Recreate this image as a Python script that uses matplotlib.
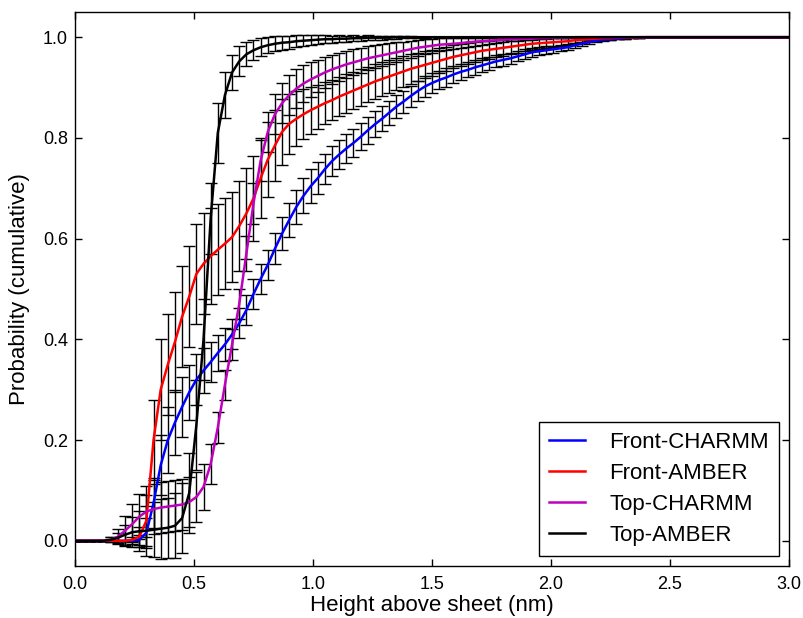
import numpy as np
import matplotlib

matplotlib.use("Agg")
import matplotlib.pyplot as plt  # noqa: E402

plt.rcParams["font.family"] = ["Liberation Sans", "DejaVu Sans"]

# bin positions (nm), one value every 0.03 nm from 0 to 3
height_nm = np.round(np.arange(101) * 0.03, 2)

front_charmm = [
    0, 0, 0, 0, 0,
    0, 0, 0, 0, 0.002,
    0.016, 0.075, 0.15, 0.20, 0.235,
    0.266, 0.295, 0.32, 0.338, 0.355,
    0.373, 0.39, 0.41, 0.432, 0.458,
    0.49, 0.52, 0.548, 0.58, 0.61,
    0.637, 0.663, 0.685, 0.704, 0.72,
    0.738, 0.754, 0.767, 0.779, 0.79,
    0.802, 0.815, 0.827, 0.838, 0.850,
    0.862, 0.872, 0.883, 0.893, 0.902,
    0.909, 0.915, 0.920, 0.926, 0.931,
    0.935, 0.940, 0.944, 0.948, 0.952,
    0.955, 0.958, 0.962, 0.966, 0.970,
    0.972, 0.974, 0.976, 0.978, 0.980,
    0.984, 0.987, 0.990, 0.993, 0.995,
    0.996, 0.997, 0.998, 0.999, 0.999,
    1.0, 1.0, 1.0, 1.0, 1.0,
    1.0, 1.0, 1.0, 1.0, 1.0,
    1.0, 1.0, 1.0, 1.0, 1.0,
    1.0, 1.0, 1.0, 1.0, 1.0,
    1.0,
]
front_charmm_err = [
    0, 0, 0, 0, 0,
    0, 0, 0, 0, 0.01,
    0.03, 0.05, 0.06, 0.065, 0.065,
    0.06, 0.055, 0.05, 0.045, 0.04,
    0.035, 0.032, 0.03, 0.03, 0.03,
    0.03, 0.03, 0.03, 0.031, 0.032,
    0.033, 0.034, 0.035, 0.034, 0.032,
    0.03, 0.029, 0.028, 0.028, 0.028,
    0.027, 0.027, 0.026, 0.025, 0.024,
    0.023, 0.022, 0.021, 0.020, 0.020,
    0.019, 0.018, 0.018, 0.017, 0.016,
    0.015, 0.015, 0.014, 0.013, 0.012,
    0.012, 0.011, 0.010, 0.010, 0.009,
    0.008, 0.008, 0.007, 0.006, 0.006,
    0.005, 0.004, 0.004, 0.003, 0.002,
    0.002, 0.001, 0.001, 0.001, 0,
    0, 0, 0, 0, 0,
    0, 0, 0, 0, 0,
    0, 0, 0, 0, 0,
    0, 0, 0, 0, 0,
    0,
]

front_amber = [
    0, 0, 0, 0, 0,
    0, 0, 0, 0.002, 0.008,
    0.04, 0.20, 0.30, 0.35, 0.395,
    0.445, 0.485, 0.53, 0.55, 0.565,
    0.578, 0.59, 0.603, 0.625, 0.65,
    0.68, 0.72, 0.757, 0.785, 0.812,
    0.828, 0.838, 0.847, 0.855, 0.862,
    0.869, 0.875, 0.882, 0.888, 0.894,
    0.900, 0.906, 0.912, 0.917, 0.922,
    0.927, 0.932, 0.937, 0.941, 0.945,
    0.949, 0.953, 0.957, 0.961, 0.964,
    0.967, 0.970, 0.973, 0.975, 0.977,
    0.979, 0.981, 0.983, 0.985, 0.987,
    0.988, 0.989, 0.990, 0.991, 0.992,
    0.994, 0.995, 0.996, 0.997, 0.998,
    0.998, 0.999, 0.999, 0.999, 1.0,
    1.0, 1.0, 1.0, 1.0, 1.0,
    1.0, 1.0, 1.0, 1.0, 1.0,
    1.0, 1.0, 1.0, 1.0, 1.0,
    1.0, 1.0, 1.0, 1.0, 1.0,
    1.0,
]
front_amber_err = [
    0, 0, 0, 0, 0,
    0, 0, 0, 0.005, 0.02,
    0.05, 0.08, 0.10, 0.10, 0.10,
    0.10, 0.10, 0.10, 0.10, 0.095,
    0.09, 0.09, 0.09, 0.09, 0.09,
    0.085, 0.08, 0.075, 0.07, 0.065,
    0.06, 0.055, 0.05, 0.047, 0.044,
    0.042, 0.04, 0.039, 0.038, 0.037,
    0.036, 0.035, 0.034, 0.033, 0.032,
    0.031, 0.030, 0.029, 0.028, 0.027,
    0.026, 0.025, 0.024, 0.023, 0.022,
    0.021, 0.020, 0.019, 0.018, 0.017,
    0.016, 0.015, 0.014, 0.013, 0.012,
    0.011, 0.010, 0.009, 0.008, 0.007,
    0.006, 0.005, 0.004, 0.004, 0.003,
    0.003, 0.002, 0.002, 0.001, 0.001,
    0, 0, 0, 0, 0,
    0, 0, 0, 0, 0,
    0, 0, 0, 0, 0,
    0, 0, 0, 0, 0,
    0,
]

top_charmm = [
    0, 0, 0, 0, 0,
    0.002, 0.008, 0.02, 0.033, 0.048,
    0.058, 0.063, 0.066, 0.068, 0.070,
    0.072, 0.077, 0.087, 0.107, 0.152,
    0.225, 0.31, 0.39, 0.47, 0.57,
    0.67, 0.755, 0.812, 0.847, 0.869,
    0.885, 0.898, 0.908, 0.916, 0.923,
    0.930, 0.936, 0.941, 0.946, 0.950,
    0.954, 0.958, 0.961, 0.964, 0.967,
    0.970, 0.973, 0.976, 0.979, 0.981,
    0.983, 0.985, 0.986, 0.987, 0.988,
    0.990, 0.991, 0.992, 0.993, 0.994,
    0.995, 0.996, 0.996, 0.997, 0.997,
    0.998, 0.998, 0.999, 0.999, 0.999,
    1.0, 1.0, 1.0, 1.0, 1.0,
    1.0, 1.0, 1.0, 1.0, 1.0,
    1.0, 1.0, 1.0, 1.0, 1.0,
    1.0, 1.0, 1.0, 1.0, 1.0,
    1.0, 1.0, 1.0, 1.0, 1.0,
    1.0, 1.0, 1.0, 1.0, 1.0,
    1.0,
]
top_charmm_err = [
    0, 0, 0, 0, 0,
    0.005, 0.015, 0.03, 0.04, 0.045,
    0.05, 0.05, 0.05, 0.05, 0.05,
    0.05, 0.05, 0.05, 0.045, 0.04,
    0.03, 0.03, 0.03, 0.03, 0.035,
    0.04, 0.04, 0.04, 0.04, 0.04,
    0.04, 0.038, 0.036, 0.034, 0.032,
    0.030, 0.029, 0.028, 0.027, 0.026,
    0.025, 0.024, 0.023, 0.022, 0.021,
    0.020, 0.018, 0.017, 0.016, 0.015,
    0.014, 0.013, 0.012, 0.011, 0.010,
    0.009, 0.008, 0.007, 0.006, 0.006,
    0.005, 0.004, 0.004, 0.003, 0.003,
    0.002, 0.002, 0.001, 0.001, 0.001,
    0, 0, 0, 0, 0,
    0, 0, 0, 0, 0,
    0, 0, 0, 0, 0,
    0, 0, 0, 0, 0,
    0, 0, 0, 0, 0,
    0, 0, 0, 0, 0,
    0,
]

top_amber = [
    0, 0, 0, 0, 0,
    0.002, 0.006, 0.012, 0.017, 0.019,
    0.020, 0.022, 0.024, 0.026, 0.030,
    0.045, 0.095, 0.23, 0.40, 0.64,
    0.81, 0.885, 0.93, 0.952, 0.966,
    0.974, 0.980, 0.984, 0.987, 0.989,
    0.990, 0.992, 0.993, 0.994, 0.995,
    0.996, 0.996, 0.997, 0.997, 0.998,
    0.998, 0.999, 0.999, 0.999, 0.999,
    1.0, 1.0, 1.0, 1.0, 1.0,
    1.0, 1.0, 1.0, 1.0, 1.0,
    1.0, 1.0, 1.0, 1.0, 1.0,
    1.0, 1.0, 1.0, 1.0, 1.0,
    1.0, 1.0, 1.0, 1.0, 1.0,
    1.0, 1.0, 1.0, 1.0, 1.0,
    1.0, 1.0, 1.0, 1.0, 1.0,
    1.0, 1.0, 1.0, 1.0, 1.0,
    1.0, 1.0, 1.0, 1.0, 1.0,
    1.0, 1.0, 1.0, 1.0, 1.0,
    1.0, 1.0, 1.0, 1.0, 1.0,
    1.0,
]
top_amber_err = [
    0, 0, 0, 0, 0,
    0.005, 0.01, 0.02, 0.03, 0.04,
    0.05, 0.055, 0.06, 0.06, 0.065,
    0.07, 0.08, 0.09, 0.08, 0.07,
    0.06, 0.045, 0.035, 0.03, 0.024,
    0.02, 0.018, 0.016, 0.015, 0.014,
    0.013, 0.012, 0.011, 0.010, 0.009,
    0.008, 0.007, 0.007, 0.006, 0.006,
    0.005, 0.005, 0.004, 0.004, 0.003,
    0.003, 0.002, 0.002, 0.001, 0.001,
    0, 0, 0, 0, 0,
    0, 0, 0, 0, 0,
    0, 0, 0, 0, 0,
    0, 0, 0, 0, 0,
    0, 0, 0, 0, 0,
    0, 0, 0, 0, 0,
    0, 0, 0, 0, 0,
    0, 0, 0, 0, 0,
    0, 0, 0, 0, 0,
    0, 0, 0, 0, 0,
    0,
]

series_labels = ["Front-CHARMM", "Front-AMBER", "Top-CHARMM", "Top-AMBER"]
series_colors = ["#0000ff", "#ff0000", "#bf00bf", "#000000"]
series_values = [front_charmm, front_amber, top_charmm, top_amber]
series_errors = [front_charmm_err, front_amber_err, top_charmm_err, top_amber_err]

W, H = 804, 618
dpi = 100.0
fig = plt.figure(figsize=(W / dpi, H / dpi), dpi=dpi)
ax = fig.add_axes((75 / W, (H - 566) / H, 714 / W, 554 / H))

# error bars first (black), coloured curves on top
for vals, errs in zip(series_values, series_errors):
    ax.errorbar(height_nm, vals, yerr=errs, fmt="none", ecolor="k",
                elinewidth=1.0, capsize=4.5, capthick=1.0, zorder=2)
for vals, c, lab in zip(series_values, series_colors, series_labels):
    ax.plot(height_nm, vals, color=c, lw=1.8, label=lab, zorder=3)

ax.set_xlim(0, 3.0)
ax.set_ylim(-0.05, 1.05)
ax.set_xticks(np.arange(0, 3.01, 0.5))
ax.set_yticks(np.arange(0, 1.01, 0.2))
ax.xaxis.set_major_formatter(matplotlib.ticker.FormatStrFormatter("%.1f"))
ax.yaxis.set_major_formatter(matplotlib.ticker.FormatStrFormatter("%.1f"))
ax.tick_params(direction="in", top=True, right=True, length=5, width=1,
               labelsize=13)
ax.tick_params(axis="x", pad=7)
ax.tick_params(axis="y", pad=5)
for sp in ax.spines.values():
    sp.set_linewidth(1.0)

ax.set_xlabel("Height above sheet (nm)", fontsize=16, labelpad=2)
ax.set_ylabel("Probability (cumulative)", fontsize=16, labelpad=9)

leg = ax.legend(loc="lower right", fontsize=16, fancybox=False, framealpha=1,
                edgecolor="k", handlelength=1.6, handletextpad=1.1,
                labelspacing=0.45, borderpad=0.45, borderaxespad=0.45)
leg.get_frame().set_linewidth(1.0)

fig.savefig("out.png", dpi=dpi)
plt.close(fig)
